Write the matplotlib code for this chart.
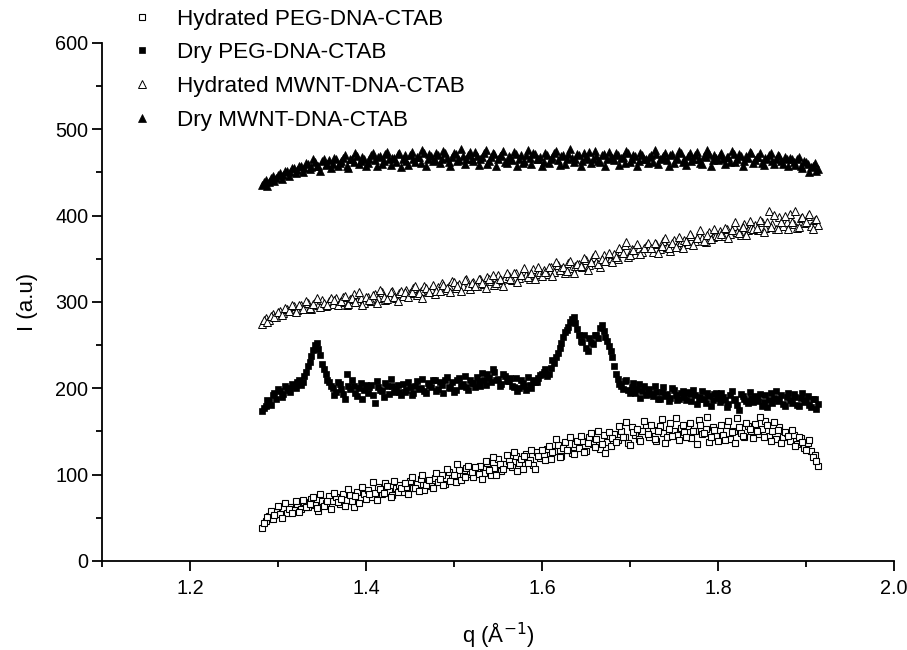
import numpy as np
import matplotlib
matplotlib.use("Agg")
import matplotlib.pyplot as plt

plt.rcParams["font.family"] = ["Liberation Sans", "DejaVu Sans"]

# two interleaved q grids, step 0.004 each
q_a = np.round(np.linspace(1.282, 1.914, 159), 3)
q_b = np.round(np.linspace(1.284, 1.912, 158), 3)

hyd_peg_a = [
    38, 46, 52, 49, 57, 54, 61, 56, 63, 59,
    66, 60, 68, 63, 72, 65, 58, 70, 67, 75,
    69, 74, 66, 78, 71, 76, 63, 80, 73, 77,
    82, 74, 79, 86, 77, 90, 81, 76, 84, 88,
    80, 86, 93, 84, 89, 95, 82, 91, 87, 96,
    92, 99, 89, 103, 96, 91, 105, 98, 108, 101,
    97, 106, 110, 102, 114, 99, 108, 118, 104, 112,
    116, 109, 121, 113, 107, 124, 117, 111, 126, 119,
    123, 130, 118, 127, 134, 122, 138, 129, 125, 136,
    131, 139, 127, 144, 135, 141, 130, 146, 138, 133,
    147, 140, 151, 143, 137, 155, 146, 141, 150, 158,
    144, 152, 139, 156, 148, 143, 160, 150, 146, 154,
    149, 156, 142, 151, 163, 147, 153, 138, 155, 145,
    152, 146, 158, 141, 150, 165, 148, 144, 156, 151,
    159, 147, 153, 162, 145, 150, 141, 155, 143, 148,
    139, 146, 135, 142, 131, 137, 127, 123, 110,
]
hyd_peg_b = [
    44, 51, 58, 53, 64, 50, 67, 60, 55, 69,
    57, 71, 62, 66, 74, 61, 77, 64, 70, 60,
    79, 68, 72, 64, 83, 70, 75, 67, 86, 72,
    77, 91, 71, 83, 79, 87, 74, 93, 80, 85,
    90, 78, 97, 85, 81, 99, 88, 94, 84, 102,
    95, 88, 107, 93, 100, 112, 94, 97, 110, 103,
    109, 101, 95, 116, 105, 120, 100, 112, 107, 123,
    111, 126, 104, 118, 122, 113, 129, 106, 121, 128,
    117, 133, 126, 141, 120, 131, 128, 143, 124, 139,
    145, 126, 137, 148, 132, 151, 136, 125, 149, 142,
    138, 156, 144, 161, 134, 149, 153, 139, 162, 147,
    157, 141, 150, 164, 137, 153, 145, 166, 140, 158,
    143, 160, 151, 136, 158, 148, 167, 144, 152, 139,
    157, 140, 162, 149, 137, 155, 145, 160, 153, 142,
    150, 167, 144, 157, 139, 161, 152, 137, 149, 145,
    152, 133, 144, 138, 129, 140, 120, 116,
]

dry_peg_a = [
    174, 180, 185, 192, 188, 197, 193, 200, 196, 203,
    207, 204, 214, 226, 237, 250, 246, 228, 216, 207,
    200, 196, 205, 193, 217, 199, 203, 191, 206, 198,
    195, 204, 183, 201, 197, 206, 193, 203, 199, 196,
    205, 198, 202, 195, 208, 200, 197, 206, 201, 209,
    199, 204, 210, 202, 207, 198, 212, 205, 201, 209,
    206, 213, 203, 210, 216, 207, 219, 211, 205, 214,
    208, 203, 212, 200, 206, 198, 204, 210, 207, 215,
    219, 214, 224, 229, 241, 252, 265, 271, 280, 276,
    262, 254, 247, 258, 251, 262, 270, 266, 255, 243,
    226, 211, 203, 208, 198, 201, 194, 205, 197, 192,
    199, 191, 196, 187, 202, 193, 189, 198, 186, 194,
    190, 196, 185, 192, 188, 197, 183, 191, 186, 194,
    184, 190, 178, 192, 186, 181, 193, 187, 183, 189,
    191, 185, 180, 192, 186, 183, 197, 188, 182, 190,
    186, 193, 181, 189, 184, 191, 178, 187, 182,
]
dry_peg_b = [
    177, 186, 181, 194, 199, 190, 203, 198, 205, 200,
    210, 207, 219, 231, 244, 253, 238, 222, 210, 203,
    192, 207, 199, 188, 203, 210, 195, 200, 187, 204,
    201, 192, 208, 198, 190, 203, 211, 196, 204, 192,
    196, 207, 192, 203, 199, 211, 194, 204, 210, 197,
    207, 195, 213, 200, 196, 210, 203, 214, 198, 206,
    201, 208, 218, 204, 212, 222, 209, 203, 217, 208,
    212, 201, 197, 209, 203, 213, 200, 207, 212, 217,
    222, 216, 233, 236, 247, 259, 268, 277, 283, 269,
    255, 262, 243, 254, 262, 258, 273, 259, 249, 236,
    217, 205, 199, 210, 195, 206, 199, 189, 203, 196,
    193, 203, 188, 196, 191, 185, 200, 192, 188, 197,
    186, 193, 198, 182, 190, 187, 195, 180, 193, 189,
    194, 186, 182, 197, 188, 175, 191, 185, 196, 184,
    187, 193, 184, 178, 195, 189, 185, 192, 179, 194,
    183, 190, 179, 195, 186, 181, 188, 176,
]

hyd_mwnt_a = [
    275, 281, 279, 286, 283, 290, 287, 292, 289, 295,
    291, 297, 294, 299, 292, 300, 296, 302, 295, 301,
    298, 304, 300, 306, 297, 303, 309, 301, 305, 299,
    306, 301, 309, 304, 311, 302, 307, 313, 305, 310,
    307, 314, 310, 316, 308, 313, 318, 311, 315, 309,
    317, 322, 314, 319, 324, 316, 321, 318, 326, 315,
    323, 318, 327, 321, 329, 324, 320, 331, 325, 328,
    330, 325, 334, 328, 336, 331, 327, 338, 332, 335,
    337, 332, 341, 335, 343, 338, 334, 345, 339, 342,
    344, 340, 349, 343, 352, 346, 341, 354, 348, 351,
    355, 350, 359, 366, 352, 361, 356, 363, 358, 365,
    363, 358, 367, 361, 370, 364, 359, 372, 366, 369,
    372, 367, 376, 370, 379, 374, 369, 381, 375, 378,
    382, 376, 385, 379, 388, 381, 377, 390, 383, 386,
    389, 383, 392, 386, 405, 390, 384, 398, 388, 393,
    402, 390, 386, 397, 391, 400, 388, 395, 389,
]
hyd_mwnt_b = [
    279, 277, 284, 282, 288, 285, 293, 290, 296, 288,
    296, 292, 301, 293, 298, 305, 294, 299, 297, 304,
    302, 296, 301, 307, 298, 305, 300, 311, 297, 306,
    302, 308, 299, 314, 306, 303, 311, 306, 301, 313,
    312, 306, 311, 319, 310, 305, 316, 312, 320, 313,
    313, 320, 316, 311, 323, 318, 313, 325, 319, 322,
    319, 326, 322, 316, 327, 331, 322, 326, 319, 333,
    327, 333, 323, 331, 339, 329, 334, 326, 341, 330,
    335, 340, 330, 346, 337, 341, 336, 347, 333, 344,
    342, 351, 337, 346, 355, 344, 350, 347, 357, 346,
    352, 362, 357, 369, 354, 360, 367, 355, 362, 368,
    362, 368, 357, 365, 374, 362, 368, 364, 375, 363,
    370, 379, 366, 374, 383, 371, 377, 373, 385, 376,
    379, 386, 374, 383, 392, 380, 387, 378, 394, 385,
    386, 395, 381, 392, 387, 401, 385, 393, 399, 384,
    393, 405, 387, 398, 392, 402, 385, 396,
]

dry_mwnt_a = [
    436, 441, 439, 446, 443, 449, 447, 452, 450, 455,
    453, 458, 455, 460, 456, 462, 458, 463, 459, 464,
    460, 466, 461, 467, 458, 465, 462, 469, 463, 466,
    461, 470, 464, 468, 460, 471, 465, 467, 462, 472,
    466, 463, 470, 465, 468, 461, 472, 466, 469, 464,
    470, 465, 473, 462, 468, 471, 464, 469, 466, 474,
    463, 469, 466, 472, 460, 468, 471, 465, 470, 462,
    469, 464, 471, 466, 461, 470, 467, 473, 465, 468,
    462, 470, 466, 472, 464, 469, 460, 471, 467, 465,
    470, 463, 468, 474, 465, 469, 462, 471, 466, 468,
    464, 470, 467, 461, 472, 466, 469, 463, 470, 465,
    468, 462, 471, 466, 469, 464, 470, 461, 467, 472,
    465, 469, 463, 470, 466, 460, 468, 471, 464, 467,
    470, 465, 468, 462, 471, 466, 469, 463, 467, 472,
    464, 468, 461, 467, 470, 463, 466, 469, 460, 465,
    467, 462, 465, 458, 463, 460, 456, 461, 454,
]
dry_mwnt_b = [
    439, 434, 444, 440, 447, 442, 452, 446, 455, 449,
    457, 451, 461, 454, 465, 457, 452, 466, 460, 455,
    467, 457, 463, 470, 455, 466, 472, 460, 468, 457,
    466, 473, 458, 469, 463, 474, 459, 467, 471, 456,
    470, 459, 474, 462, 468, 476, 458, 471, 463, 473,
    461, 475, 467, 458, 472, 463, 477, 460, 470, 466,
    474, 459, 468, 476, 463, 472, 458, 469, 475, 461,
    467, 474, 458, 470, 463, 476, 460, 471, 466, 457,
    473, 461, 468, 475, 459, 470, 465, 477, 462, 471,
    458, 472, 466, 461, 475, 463, 470, 457, 474, 467,
    472, 459, 468, 475, 462, 470, 457, 473, 466, 461,
    470, 476, 460, 467, 473, 458, 471, 465, 475, 462,
    459, 472, 466, 474, 461, 469, 476, 458, 470, 464,
    473, 460, 468, 475, 462, 471, 457, 469, 474, 461,
    468, 472, 459, 466, 473, 460, 470, 463, 468, 457,
    465, 459, 468, 455, 462, 451, 458, 452,
]

labels = ["Hydrated PEG-DNA-CTAB", "Dry PEG-DNA-CTAB",
          "Hydrated MWNT-DNA-CTAB", "Dry MWNT-DNA-CTAB"]

fig = plt.figure(figsize=(9.07, 6.5), dpi=100)
ax = fig.add_axes([0.1125, 0.137, 0.873, 0.797])

q_all = np.concatenate([q_a, q_b])
styles = [
    (hyd_peg_a, hyd_peg_b, dict(marker="s", ms=4.2, mfc="white", mec="black", mew=0.8)),
    (dry_peg_a, dry_peg_b, dict(marker="s", ms=4.4, mfc="black", mec="black", mew=0.5)),
    (hyd_mwnt_a, hyd_mwnt_b, dict(marker="^", ms=5.5, mfc="white", mec="black", mew=0.7)),
    (dry_mwnt_a, dry_mwnt_b, dict(marker="^", ms=5.5, mfc="black", mec="black", mew=0.5)),
]
for (ya, yb, st), lab in zip(styles, labels):
    y_all = np.concatenate([ya, yb])
    ax.plot(q_all, y_all, ls="none", label=lab, **st)

ax.set_xlim(1.1, 2.0)
ax.set_ylim(0, 600)
ax.set_xticks([1.2, 1.4, 1.6, 1.8, 2.0])
ax.set_xticks(np.arange(1.1, 2.01, 0.1), minor=True)
ax.set_yticks(np.arange(0, 601, 100))
ax.set_yticks(np.arange(0, 601, 50), minor=True)

for side in ["top", "right"]:
    ax.spines[side].set_visible(False)
for side in ["left", "bottom"]:
    ax.spines[side].set_linewidth(1.3)

ax.tick_params(which="major", direction="out", length=7, width=1.3, labelsize=14.3)
ax.tick_params(which="minor", direction="out", length=4, width=1.3)
ax.tick_params(axis="x", pad=6)
ax.tick_params(axis="y", pad=3)

ax.set_xlabel("q (Å$^{-1}$)", fontsize=16, labelpad=16)
ax.set_ylabel("I (a.u)", fontsize=16, labelpad=12)

ax.legend(loc="upper left", bbox_to_anchor=(124 / 907, 1 - 2 / 650), bbox_transform=fig.transFigure,
          frameon=False, fontsize=16.2, handlelength=1.0, handletextpad=1.05,
          labelspacing=0.56, borderpad=0.3, borderaxespad=0)

fig.savefig("out.png", dpi=100)
